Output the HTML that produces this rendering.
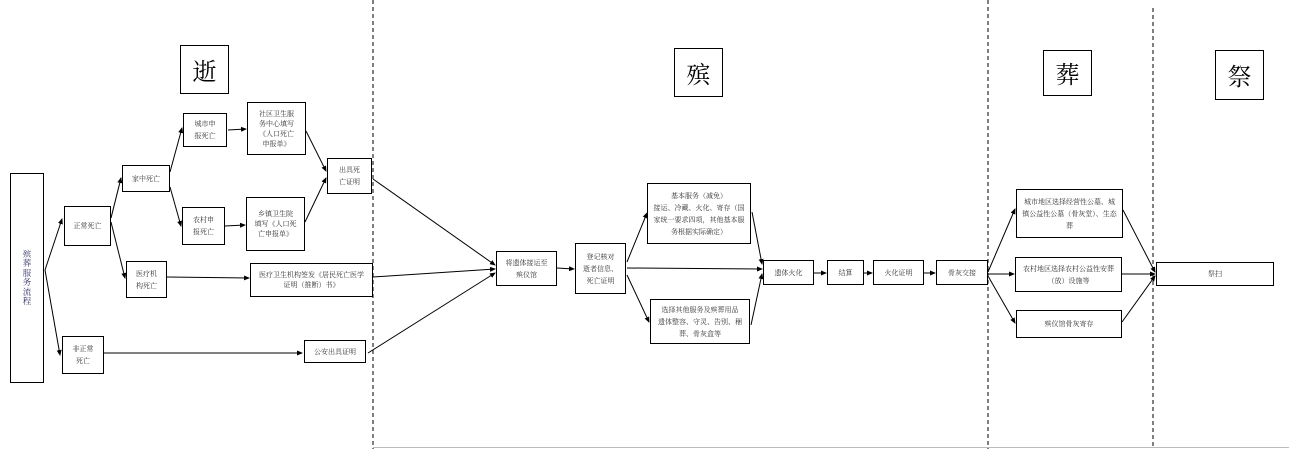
<!DOCTYPE html>
<html><head><meta charset="utf-8"><style>
body{margin:0;width:1289px;height:449px;background:#fff;position:relative;overflow:hidden;font-family:"Liberation Serif","Noto Serif CJK SC",serif;}
.b{position:absolute;border:1.3px solid #000;box-sizing:border-box;display:flex;align-items:center;justify-content:center;text-align:center;font-size:7px;line-height:12px;color:#333;background:#fff;}
.h{font-size:24px;color:#000;font-family:"Noto Serif CJK SC",serif;}
svg{position:absolute;left:0;top:0;}
</style></head><body>
<svg width="1289" height="449">
<defs><marker id="a" markerWidth="6" markerHeight="6" refX="5" refY="3" orient="auto" markerUnits="userSpaceOnUse"><path d="M0,0.5L6,3L0,5.5z" fill="#000"/></marker></defs>
<g stroke="#000" stroke-width="1" stroke-dasharray="4,3">
<line x1="373" y1="0" x2="373" y2="449"/><line x1="988" y1="0" x2="988" y2="449"/><line x1="1153" y1="8" x2="1153" y2="449"/>
</g>
<line x1="373" y1="447.5" x2="1289" y2="447.5" stroke="#bbb" stroke-width="1"/>
<g stroke="#000" stroke-width="1" fill="none" marker-end="url(#a)">
<line x1="45" y1="270" x2="62" y2="219"/><line x1="45" y1="270" x2="60" y2="355"/>
<line x1="111" y1="218" x2="121" y2="178"/><line x1="111" y1="222" x2="125" y2="278"/>
<line x1="170" y1="172" x2="182" y2="128"/><line x1="170" y1="187" x2="181" y2="226"/>
<line x1="228" y1="130" x2="246" y2="129"/><line x1="225" y1="226" x2="245" y2="225"/>
<line x1="306" y1="131" x2="326" y2="171"/><line x1="305" y1="222" x2="326" y2="178"/>
<line x1="167" y1="277" x2="249" y2="278"/><line x1="104" y1="353" x2="302" y2="353"/>
<line x1="373" y1="179" x2="495" y2="265"/><line x1="373" y1="277" x2="495" y2="269"/><line x1="368" y1="353" x2="495" y2="273"/>
<line x1="557" y1="268" x2="574" y2="269"/>
<line x1="627" y1="262" x2="647" y2="213"/><line x1="627" y1="268" x2="762" y2="269"/><line x1="627" y1="275" x2="649" y2="322"/>
<line x1="752" y1="212" x2="762" y2="264"/><line x1="751" y1="325" x2="762" y2="274"/>
<line x1="814" y1="273" x2="826" y2="273"/><line x1="864" y1="273" x2="872" y2="273"/><line x1="924" y1="273" x2="935" y2="273"/>
<line x1="988" y1="272" x2="1015" y2="209"/><line x1="988" y1="274" x2="1014" y2="274"/><line x1="988" y1="276" x2="1015" y2="323"/>
<line x1="1123" y1="210" x2="1155" y2="272"/><line x1="1122" y1="274" x2="1155" y2="274"/><line x1="1122" y1="322" x2="1155" y2="276"/>
</g>
</svg>
<div class="b h" style="left:180px;top:45px;width:49px;height:49px">逝</div>
<div class="b h" style="left:674px;top:48px;width:49px;height:49px">殡</div>
<div class="b h" style="left:1043px;top:50px;width:49px;height:46px">葬</div>
<div class="b h" style="left:1215px;top:50px;width:49px;height:50px">祭</div>
<div class="b" style="left:10px;top:173px;width:34px;height:210px;font-size:8.5px;line-height:9.5px;color:#336"><div style="width:9px">殡葬服务流程</div></div>
<div class="b" style="left:64px;top:206px;width:47px;height:40px">正常死亡</div>
<div class="b" style="left:62px;top:336px;width:42px;height:38px">非正常<br>死亡</div>
<div class="b" style="left:122px;top:165px;width:48px;height:27px">家中死亡</div>
<div class="b" style="left:126px;top:261px;width:41px;height:37px">医疗机<br>构死亡</div>
<div class="b" style="left:183px;top:113px;width:44px;height:34px">城市申<br>报死亡</div>
<div class="b" style="left:182px;top:207px;width:43px;height:38px">农村申<br>报死亡</div>
<div class="b" style="left:247px;top:102px;width:59px;height:53px;line-height:10px">社区卫生服<br>务中心填写<br>《人口死亡<br>申报单》</div>
<div class="b" style="left:246px;top:197px;width:59px;height:54px;line-height:10px">乡镇卫生院<br>填写《人口死<br>亡申报单》</div>
<div class="b" style="left:327px;top:158px;width:45px;height:36px">出具死<br>亡证明</div>
<div class="b" style="left:250px;top:263px;width:123px;height:34px;line-height:10px">医疗卫生机构签发《居民死亡医学<br>证明（推断）书》</div>
<div class="b" style="left:304px;top:340px;width:62px;height:23px">公安出具证明</div>
<div class="b" style="left:496px;top:251px;width:61px;height:35px">将遗体接运至<br>殡仪馆</div>
<div class="b" style="left:575px;top:243px;width:51px;height:51px">登记核对<br>逝者信息、<br>死亡证明</div>
<div class="b" style="left:647px;top:183px;width:104px;height:61px">基本服务（减免）<br>接运、冷藏、火化、寄存（国<br>家统一要求四项，其他基本服<br>务根据实际确定）</div>
<div class="b" style="left:650px;top:299px;width:100px;height:45px">选择其他服务及殡葬用品<br>遗体整容、守灵、告别、稇<br>葬、骨灰盒等</div>
<div class="b" style="left:763px;top:260px;width:51px;height:25px">遗体火化</div>
<div class="b" style="left:827px;top:260px;width:37px;height:25px">结算</div>
<div class="b" style="left:873px;top:260px;width:51px;height:25px">火化证明</div>
<div class="b" style="left:936px;top:260px;width:52px;height:25px">骨灰交接</div>
<div class="b" style="left:1016px;top:189px;width:107px;height:49px">城市地区选择经营性公墓、城<br>镇公益性公墓（骨灰堂）、生态<br>葬</div>
<div class="b" style="left:1015px;top:257px;width:107px;height:35px">农村地区选择农村公益性安葬<br>（放）设施等</div>
<div class="b" style="left:1016px;top:310px;width:106px;height:28px">殡仪馆骨灰寄存</div>
<div class="b" style="left:1156px;top:262px;width:118px;height:24px">祭扫</div>
</body></html>
